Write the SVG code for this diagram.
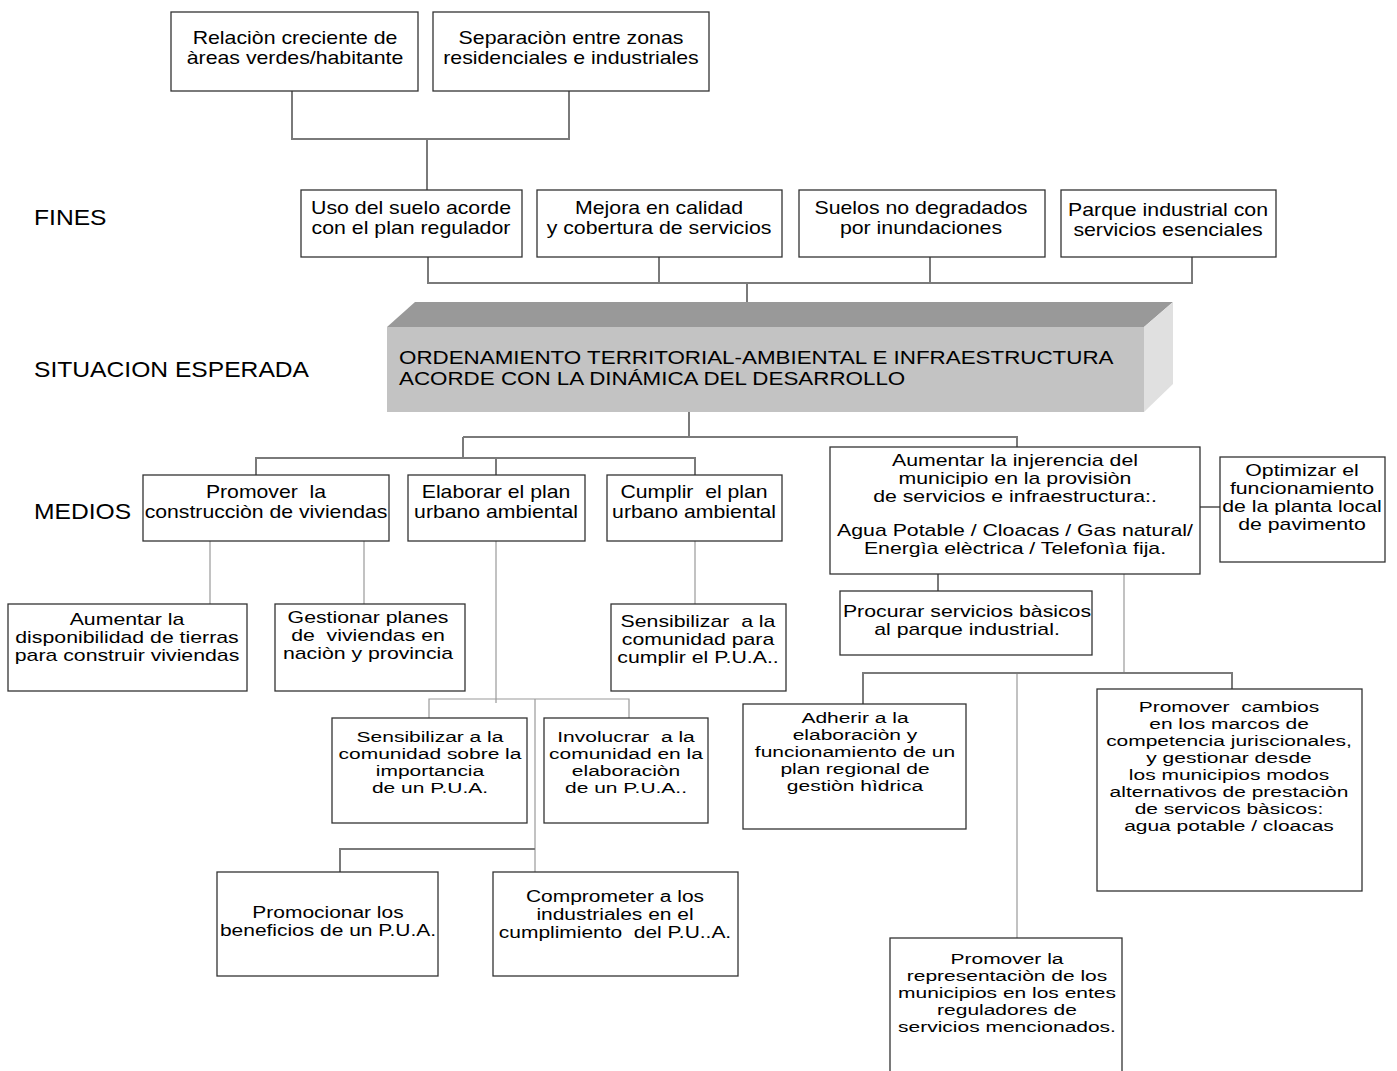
<svg xmlns="http://www.w3.org/2000/svg" width="1397" height="1071" viewBox="0 0 1397 1071">
<style>
text{font-family:"Liberation Sans",Arial,sans-serif;fill:#000;white-space:pre}
.b{font-size:17.9px;text-anchor:middle}
.m{font-size:17.9px;text-anchor:middle}
.k{font-size:16px;text-anchor:middle}
.s{font-size:15.2px;text-anchor:middle}
.lab{font-size:22px}
.h{font-size:18.8px}
rect.n{fill:#fff;stroke:#333;stroke-width:1.3}
.c{fill:none;stroke:#7a7a7a;stroke-width:2}
.c2{fill:none;stroke:#9a9a9a;stroke-width:1.2}
</style>
<rect width="1397" height="1071" fill="#fff"/>
<g id="connectors">
<path class="c" d="M292,91 V139 H569 V91 M427,139 V190"/>
<path class="c" d="M428,257 V283 H1192 V257 M659,257 V283 M930,257 V283 M747,283 V302"/>
<path class="c" d="M689,412 V437 M463,437 H1017 V447 M463,437 V458 M256,475 V458 H695 V475 M496,458 V475"/>
<path class="c2" d="M210,541 V604 M364,541 V604 M496,541 V703 M695,541 V604"/>
<path class="c2" d="M429,718 V699 H629 V718 M535,699 V873"/>
<path class="c" d="M340,872 V849 H535"/>
<path class="c" d="M1200,507 H1220 M938,574 V591"/>
<path class="c2" d="M1124,574 V673 M1017,673 V938"/>
<path class="c" d="M863,704 V673 H1232 V689"/>
</g>
<g id="labels">
<text class="lab" transform="translate(34,0) scale(1.12,1)"><tspan x="0" y="225">FINES</tspan></text>
<text class="lab" transform="translate(34,0) scale(1.12,1)"><tspan x="0" y="377">SITUACION ESPERADA</tspan></text>
<text class="lab" transform="translate(34,0) scale(1.12,1)"><tspan x="0" y="519">MEDIOS</tspan></text>
</g>
<g id="n1"><rect class="n" x="171" y="12" width="247" height="79"/>
<text class="b" transform="translate(295,0) scale(1.19,1)"><tspan x="0" y="44">Relaciòn creciente de</tspan><tspan x="0" y="64">àreas verdes/habitante</tspan></text></g>
<g id="n2"><rect class="n" x="433" y="12" width="276" height="79"/>
<text class="b" transform="translate(571,0) scale(1.19,1)"><tspan x="0" y="44">Separaciòn entre zonas</tspan><tspan x="0" y="64">residenciales e industriales</tspan></text></g>
<g id="f1"><rect class="n" x="301" y="190" width="221" height="67"/>
<text class="b" transform="translate(411,0) scale(1.19,1)"><tspan x="0" y="214">Uso del suelo acorde</tspan><tspan x="0" y="234">con el plan regulador</tspan></text></g>
<g id="f2"><rect class="n" x="537" y="190" width="245" height="67"/>
<text class="b" transform="translate(659,0) scale(1.19,1)"><tspan x="0" y="214">Mejora en calidad</tspan><tspan x="0" y="234">y cobertura de servicios</tspan></text></g>
<g id="f3"><rect class="n" x="799" y="190" width="246" height="67"/>
<text class="b" transform="translate(921,0) scale(1.19,1)"><tspan x="0" y="214">Suelos no degradados</tspan><tspan x="0" y="234">por inundaciones</tspan></text></g>
<g id="f4"><rect class="n" x="1061" y="190" width="215" height="67"/>
<text class="b" transform="translate(1168,0) scale(1.19,1)"><tspan x="0" y="216">Parque industrial con</tspan><tspan x="0" y="236">servicios esenciales</tspan></text></g>
<g id="situacion">
<polygon points="387,327 415,302 1173,302 1144,327" fill="#999"/>
<polygon points="1144,327 1173,302 1173,384 1144,412" fill="#e0e0e0"/>
<rect x="387" y="327" width="757" height="85" fill="#c3c3c3"/>
<text class="h" transform="translate(399,0) scale(1.19,1)"><tspan x="0" y="364">ORDENAMIENTO TERRITORIAL-AMBIENTAL E INFRAESTRUCTURA</tspan><tspan x="0" y="385">ACORDE CON LA DINÁMICA DEL DESARROLLO</tspan></text></g>
<g id="m1"><rect class="n" x="143" y="475" width="246" height="66"/>
<text class="m" transform="translate(266,0) scale(1.185,1)"><tspan x="0" y="498">Promover  la</tspan><tspan x="0" y="518">construcciòn de viviendas</tspan></text></g>
<g id="m2"><rect class="n" x="408" y="475" width="177" height="66"/>
<text class="m" transform="translate(496,0) scale(1.185,1)"><tspan x="0" y="498">Elaborar el plan</tspan><tspan x="0" y="518">urbano ambiental</tspan></text></g>
<g id="m3"><rect class="n" x="607" y="475" width="175" height="66"/>
<text class="m" transform="translate(694,0) scale(1.185,1)"><tspan x="0" y="498">Cumplir  el plan</tspan><tspan x="0" y="518">urbano ambiental</tspan></text></g>
<g id="m4"><rect class="n" x="830" y="447" width="370" height="127"/>
<text class="k" transform="translate(1015,0) scale(1.33,1)"><tspan x="0" y="466">Aumentar la injerencia del</tspan><tspan x="0" y="484">municipio en la provisiòn</tspan><tspan x="0" y="502">de servicios e infraestructura:.</tspan><tspan x="0" y="536">Agua Potable / Cloacas / Gas natural/</tspan><tspan x="0" y="554">Energìa elèctrica / Telefonìa fija.</tspan></text></g>
<g id="m5"><rect class="n" x="1220" y="457" width="165" height="105"/>
<text class="k" transform="translate(1302,0) scale(1.33,1)"><tspan x="0" y="476">Optimizar el</tspan><tspan x="0" y="494">funcionamiento</tspan><tspan x="0" y="512">de la planta local</tspan><tspan x="0" y="530">de pavimento</tspan></text></g>
<g id="s1"><rect class="n" x="8" y="604" width="239" height="87"/>
<text class="k" transform="translate(127,0) scale(1.33,1)"><tspan x="0" y="625">Aumentar la</tspan><tspan x="0" y="643">disponibilidad de tierras</tspan><tspan x="0" y="661">para construir viviendas</tspan></text></g>
<g id="s2"><rect class="n" x="275" y="604" width="190" height="87"/>
<text class="k" transform="translate(368,0) scale(1.33,1)"><tspan x="0" y="623">Gestionar planes</tspan><tspan x="0" y="641">de  viviendas en</tspan><tspan x="0" y="659">naciòn y provincia</tspan></text></g>
<g id="s3"><rect class="n" x="611" y="604" width="175" height="87"/>
<text class="k" transform="translate(698,0) scale(1.33,1)"><tspan x="0" y="627">Sensibilizar  a la</tspan><tspan x="0" y="645">comunidad para</tspan><tspan x="0" y="663">cumplir el P.U.A..</tspan></text></g>
<g id="s4"><rect class="n" x="840" y="591" width="252" height="64"/>
<text class="k" transform="translate(967,0) scale(1.33,1)"><tspan x="0" y="617">Procurar servicios bàsicos</tspan><tspan x="0" y="635">al parque industrial.</tspan></text></g>
<g id="l1"><rect class="n" x="332" y="718" width="195" height="105"/>
<text class="s" transform="translate(430,0) scale(1.38,1)"><tspan x="0" y="742">Sensibilizar a la</tspan><tspan x="0" y="759">comunidad sobre la</tspan><tspan x="0" y="776">importancia</tspan><tspan x="0" y="793">de un P.U.A.</tspan></text></g>
<g id="l2"><rect class="n" x="544" y="718" width="164" height="105"/>
<text class="s" transform="translate(626,0) scale(1.38,1)"><tspan x="0" y="742">Involucrar  a la</tspan><tspan x="0" y="759">comunidad en la</tspan><tspan x="0" y="776">elaboraciòn</tspan><tspan x="0" y="793">de un P.U.A..</tspan></text></g>
<g id="l3"><rect class="n" x="217" y="872" width="221" height="104"/>
<text class="k" transform="translate(328,0) scale(1.31,1)"><tspan x="0" y="918">Promocionar los</tspan><tspan x="0" y="936">beneficios de un P.U.A.</tspan></text></g>
<g id="l4"><rect class="n" x="493" y="872" width="245" height="104"/>
<text class="k" transform="translate(615,0) scale(1.31,1)"><tspan x="0" y="902">Comprometer a los</tspan><tspan x="0" y="920">industriales en el</tspan><tspan x="0" y="938">cumplimiento  del P.U..A.</tspan></text></g>
<g id="r1"><rect class="n" x="743" y="704" width="223" height="125"/>
<text class="s" transform="translate(855,0) scale(1.38,1)"><tspan x="0" y="723">Adherir a la</tspan><tspan x="0" y="740">elaboraciòn y</tspan><tspan x="0" y="757">funcionamiento de un</tspan><tspan x="0" y="774">plan regional de</tspan><tspan x="0" y="791">gestiòn hìdrica</tspan></text></g>
<g id="r2"><rect class="n" x="1097" y="689" width="265" height="202"/>
<text class="s" transform="translate(1229,0) scale(1.38,1)"><tspan x="0" y="712">Promover  cambios</tspan><tspan x="0" y="729">en los marcos de</tspan><tspan x="0" y="746">competencia juriscionales,</tspan><tspan x="0" y="763">y gestionar desde</tspan><tspan x="0" y="780">los municipios modos</tspan><tspan x="0" y="797">alternativos de prestaciòn</tspan><tspan x="0" y="814">de servicos bàsicos:</tspan><tspan x="0" y="831">agua potable / cloacas</tspan></text></g>
<g id="r3"><rect class="n" x="890" y="938" width="232" height="140"/>
<text class="s" transform="translate(1007,0) scale(1.38,1)"><tspan x="0" y="964">Promover la</tspan><tspan x="0" y="981">representaciòn de los</tspan><tspan x="0" y="998">municipios en los entes</tspan><tspan x="0" y="1015">reguladores de</tspan><tspan x="0" y="1032">servicios mencionados.</tspan></text></g>
</svg>
